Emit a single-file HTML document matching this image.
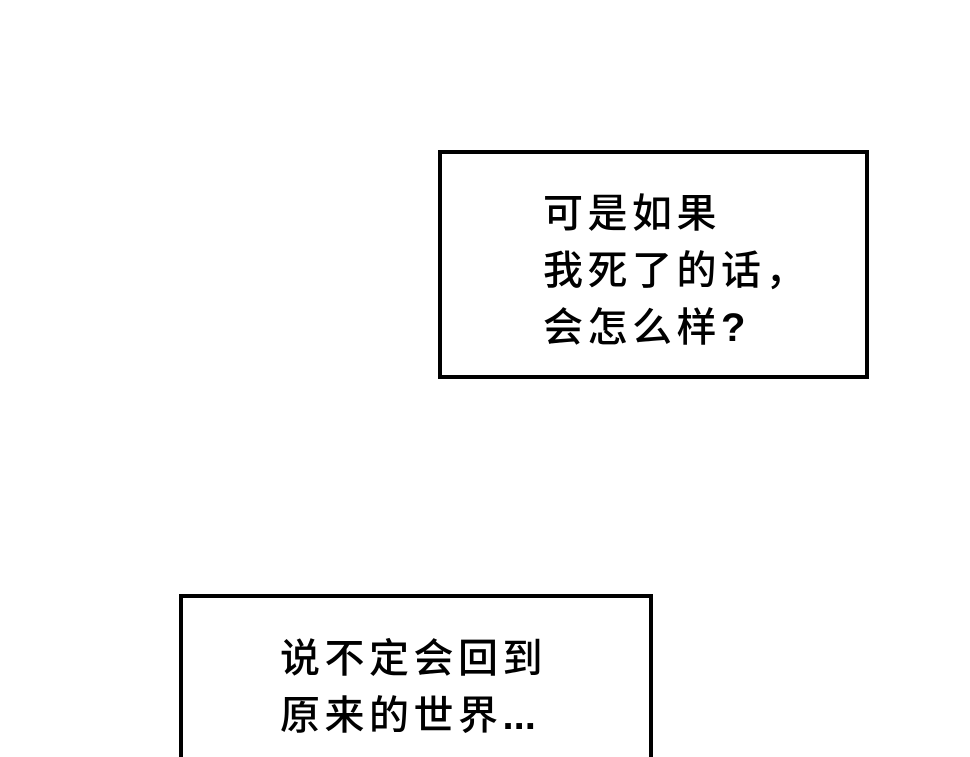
<!DOCTYPE html>
<html><head><meta charset="utf-8"><style>
html,body{margin:0;padding:0;background:#fff;width:970px;height:757px;overflow:hidden;position:relative}
.box{position:absolute;border:4px solid #000;background:#fff;box-sizing:border-box}
.t{position:absolute;font-family:"Liberation Sans","Noto Sans CJK SC",sans-serif;font-size:40px;font-weight:500;line-height:57px;color:#000;letter-spacing:4.5px;white-space:nowrap}
.n{letter-spacing:0;font-weight:700}
</style></head><body>
<div class="box" style="left:438px;top:150px;width:431px;height:229px"></div>
<div class="t" style="left:543px;top:186px">可是如果<br>我死了的话，<br>会怎么样<span class="n">?</span></div>
<div class="box" style="left:179px;top:594px;width:474px;height:200px"></div>
<div class="t" style="left:280px;top:631px">说不定会回到<br>原来的世界<span class="n">...</span></div>
</body></html>
